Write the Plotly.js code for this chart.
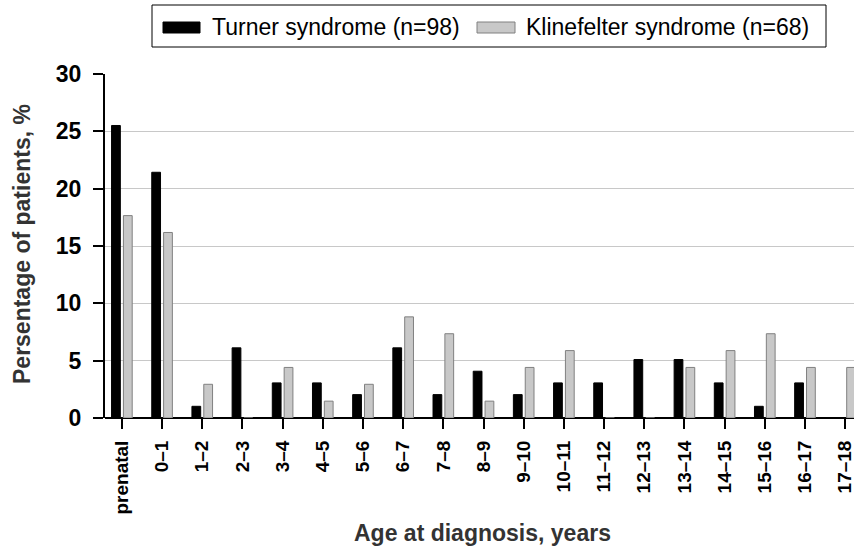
<!DOCTYPE html>
<html>
<head>
<meta charset="utf-8">
<script src="https://cdn.plot.ly/plotly-3.0.1.min.js"></script>
<style>html,body{margin:0;padding:0;background:#fff;}#chart{width:854px;height:548px;}</style>
</head>
<body>
<div id="chart"></div>
<script>
var categories = ["prenatal","0\u20131","1\u20132","2\u20133","3\u20134","4\u20135","5\u20136","6\u20137","7\u20138","8\u20139","9\u201310","10\u201311","11\u201312","12\u201313","13\u201314","14\u201315","15\u201316","16\u201317","17\u201318"];
var turnerName = "Turner syndrome (n=98)";
var klinefelterName = "Klinefelter syndrome (n=68)";
var turnerValues = [25.51,21.43,1.02,6.12,3.06,3.06,2.04,6.12,2.04,4.08,2.04,3.06,3.06,5.10,5.10,3.06,1.02,3.06,0];
var klinefelterValues = [17.65,16.18,2.94,0,4.41,1.47,2.94,8.82,7.35,1.47,4.41,5.88,0,0,4.41,5.88,7.35,4.41,4.41];
var yTicks = [0,5,10,15,20,25,30];

var font = "Liberation Sans, Arial, sans-serif";

var traces = [
  {type:"bar", name:turnerName, x:categories, y:turnerValues,
   marker:{color:"#000000", line:{color:"#000000", width:1}}, showlegend:false, hoverinfo:"skip"},
  {type:"bar", name:klinefelterName, x:categories, y:klinefelterValues,
   marker:{color:"#c8c8c8", line:{color:"#808080", width:1}}, showlegend:false, hoverinfo:"skip"}
];

var L = 105, W = 749, B = 418, H = 344;
function px(x){ return (x - L) / W; }
function py(y){ return (B - y) / H; }

var layout = {
  width:854, height:548,
  margin:{l:105, r:0, t:74, b:130},
  paper_bgcolor:"#ffffff", plot_bgcolor:"#ffffff",
  barmode:"group", bargap:0.41, bargroupgap:0.26,
  font:{family:font, color:"#000"},
  xaxis:{
    type:"category", range:[-0.42,18.22],
    tickangle:-90, ticks:"outside", ticklen:10, tickwidth:2, tickcolor:"#000",
    ticklabelstandoff:4,
    tickfont:{family:font, size:19, color:"#000", weight:"bold"},
    showline:false, showgrid:false, zeroline:false, fixedrange:true
  },
  yaxis:{
    range:[0,30], tickvals:yTicks, ticktext:yTicks.map(String),
    ticks:"outside", ticklen:10, tickwidth:2, tickcolor:"#000",
    ticklabelstandoff:7,
    tickfont:{family:font, size:23, color:"#000", weight:"bold"},
    showline:true, linecolor:"#000", linewidth:2,
    showgrid:true, gridcolor:"#c8c8c8", gridwidth:1,
    zeroline:true, zerolinecolor:"#000", zerolinewidth:2, fixedrange:true
  },
  shapes:[
    {type:"rect", xref:"paper", yref:"paper", x0:px(152), x1:px(826), y0:py(47), y1:py(5),
     line:{color:"#000", width:1}, fillcolor:"#fff"},
    {type:"rect", xref:"paper", yref:"paper", x0:px(163), x1:px(200), y0:py(33), y1:py(22),
     line:{color:"#000", width:1}, fillcolor:"#000"},
    {type:"rect", xref:"paper", yref:"paper", x0:px(477), x1:px(515), y0:py(33), y1:py(22),
     line:{color:"#808080", width:1}, fillcolor:"#c8c8c8"}
  ],
  annotations:[
    {xref:"paper", yref:"paper", x:px(210), y:py(27), xanchor:"left", yanchor:"middle",
     text:turnerName, showarrow:false, font:{family:font, size:23, color:"#000"}},
    {xref:"paper", yref:"paper", x:px(524), y:py(27), xanchor:"left", yanchor:"middle",
     text:klinefelterName, showarrow:false, font:{family:font, size:23, color:"#000"}},
    {xref:"paper", yref:"paper", x:px(483), y:py(533), xanchor:"center", yanchor:"middle",
     text:"Age at diagnosis, years", showarrow:false, font:{family:font, size:23, color:"#333", weight:"bold"}},
    {xref:"paper", yref:"paper", x:px(22), y:py(244), xanchor:"center", yanchor:"middle",
     text:"Persentage of patients, %", textangle:-90, showarrow:false, font:{family:font, size:23, color:"#333", weight:"bold"}}
  ]
};

Plotly.newPlot("chart", traces, layout, {displayModeBar:false, staticPlot:true});
</script>
</body>
</html>
